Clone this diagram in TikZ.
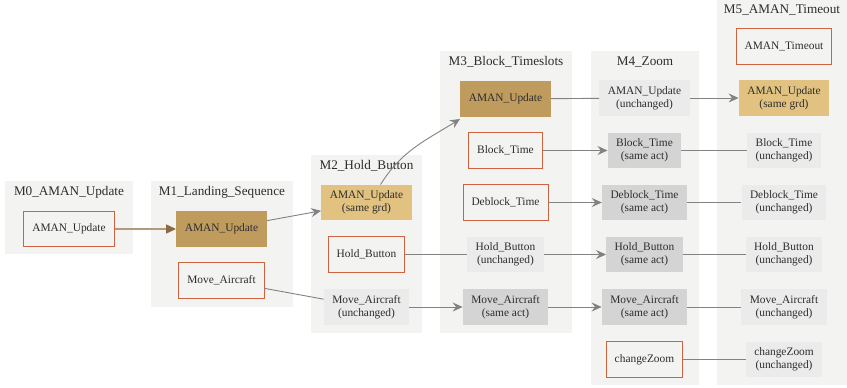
\documentclass[tikz,border=0pt]{standalone}
\usepackage{fontspec}
\setmainfont{Liberation Serif}
\usetikzlibrary{arrows.meta}
\definecolor{clfill}{RGB}{243,243,242}
\definecolor{darktan}{RGB}{191,156,94}
\definecolor{gold}{RGB}{226,194,128}
\definecolor{unch}{RGB}{235,235,235}
\definecolor{sameact}{RGB}{212,212,212}
\definecolor{bord}{RGB}{207,98,64}
\definecolor{edgegray}{RGB}{130,130,130}
\definecolor{edgebrown}{RGB}{178,152,124}
\definecolor{headbrown}{RGB}{140,104,68}
\definecolor{txt}{RGB}{45,45,45}
\begin{document}
\begin{tikzpicture}[x=1pt,y=-1pt,
  every node/.style={text=txt},
  box/.style={draw=none,minimum height=35.5pt,inner xsep=8.5pt,inner ysep=2pt,align=center,font=\fontsize{11.4}{13}\selectfont},
  newbox/.style={box,draw=bord,line width=0.9pt,fill=clfill},
  darkbox/.style={box,fill=darktan},
  goldbox/.style={box,fill=gold},
  unchbox/.style={box,fill=unch},
  samebox/.style={box,fill=sameact},
  ctitle/.style={font=\fontsize{13.2}{15}\selectfont,inner sep=0pt},
  cluster/.style={fill=clfill},
  arr/.style={draw=edgegray,line width=0.9pt,-{Stealth[length=10pt,width=9pt,inset=3.5pt,fill=edgegray]}},
  lnk/.style={draw=edgegray,line width=0.9pt},
  barr/.style={draw=edgebrown,line width=1.2pt,-{Triangle[length=10pt,width=9pt,fill=headbrown,color=headbrown]}}
]
\useasboundingbox (0,0) rectangle (847,388);
\fill[white] (0,0) rectangle (847,388);
% clusters
\fill[cluster] (5,181) rectangle (133,254);
\fill[cluster] (151,181) rectangle (293,307);
\fill[cluster] (311,155) rectangle (422,333);
\fill[cluster] (440,51) rectangle (572,333);
\fill[cluster] (591,51) rectangle (699,385);
\fill[cluster] (717,0) rectangle (847,385);
\node[ctitle] (t0) at (69,192) {M0\_AMAN\_Update};
\node[ctitle] (t1) at (222,192) {M1\_Landing\_Sequence};
\node[ctitle] (t2) at (366.5,166) {M2\_Hold\_Button};
\node[ctitle] (t3) at (506,62) {M3\_Block\_Timeslots};
\node[ctitle] (t4) at (645,62) {M4\_Zoom};
\node[ctitle] (t5) at (782,10) {M5\_AMAN\_Timeout};
% M0
\node[newbox] (m0a) at (69,229) {AMAN\_Update};
% M1
\node[darkbox] (m1a) at (221.5,229) {AMAN\_Update};
\node[newbox] (m1m) at (221.5,280.5) {Move\_Aircraft};
% M2
\node[goldbox] (m2a) at (366.5,202.5) {AMAN\_Update\\(same grd)};
\node[newbox] (m2h) at (366.5,254.5) {Hold\_Button};
\node[unchbox] (m2m) at (366.5,307) {Move\_Aircraft\\(unchanged)};
% M3
\node[darkbox] (m3a) at (505.5,99) {AMAN\_Update};
\node[newbox] (m3b) at (505.5,150.5) {Block\_Time};
\node[newbox] (m3d) at (505.5,202.5) {Deblock\_Time};
\node[unchbox] (m3h) at (505.5,254.5) {Hold\_Button\\(unchanged)};
\node[samebox] (m3m) at (505.5,307) {Move\_Aircraft\\(same act)};
% M4
\node[unchbox] (m4a) at (644.5,98) {AMAN\_Update\\(unchanged)};
\node[samebox] (m4b) at (644.5,150.5) {Block\_Time\\(same act)};
\node[samebox] (m4d) at (644.5,202.5) {Deblock\_Time\\(same act)};
\node[samebox] (m4h) at (644.5,254.5) {Hold\_Button\\(same act)};
\node[samebox] (m4m) at (644.5,307) {Move\_Aircraft\\(same act)};
\node[newbox] (m4z) at (644.5,359.5) {changeZoom};
% M5
\node[newbox] (m5t) at (784,46.5) {AMAN\_Timeout};
\node[goldbox] (m5a) at (784,98) {AMAN\_Update\\(same grd)};
\node[unchbox] (m5b) at (784,150.5) {Block\_Time\\(unchanged)};
\node[unchbox] (m5d) at (784,202.5) {Deblock\_Time\\(unchanged)};
\node[unchbox] (m5h) at (784,254.5) {Hold\_Button\\(unchanged)};
\node[unchbox] (m5m) at (784,307) {Move\_Aircraft\\(unchanged)};
\node[unchbox] (m5z) at (784,359.5) {changeZoom\\(unchanged)};
% edges
\draw[barr] (m0a) -- (m1a);
\draw[arr] (m1a) -- (m2a);
\draw[lnk] (m1m) -- (m2m);
\draw[arr] ([xshift=14pt]m2a.north) to[out=58,in=212] ([yshift=-2pt]m3a.south west);
\draw[lnk] (m2h) -- (m3h);
\draw[arr] (m2m) -- (m3m);
\draw[lnk] (m3a) -- (m4a);
\draw[arr] (m3b) -- (m4b);
\draw[arr] (m3d) -- (m4d);
\draw[arr] (m3h) -- (m4h);
\draw[arr] (m3m) -- (m4m);
\draw[arr] (m4a) -- (m5a);
\draw[lnk] (m4b) -- (m5b);
\draw[lnk] (m4d) -- (m5d);
\draw[lnk] (m4h) -- (m5h);
\draw[lnk] (m4m) -- (m5m);
\draw[lnk] (m4z) -- (m5z);
\end{tikzpicture}
\end{document}
